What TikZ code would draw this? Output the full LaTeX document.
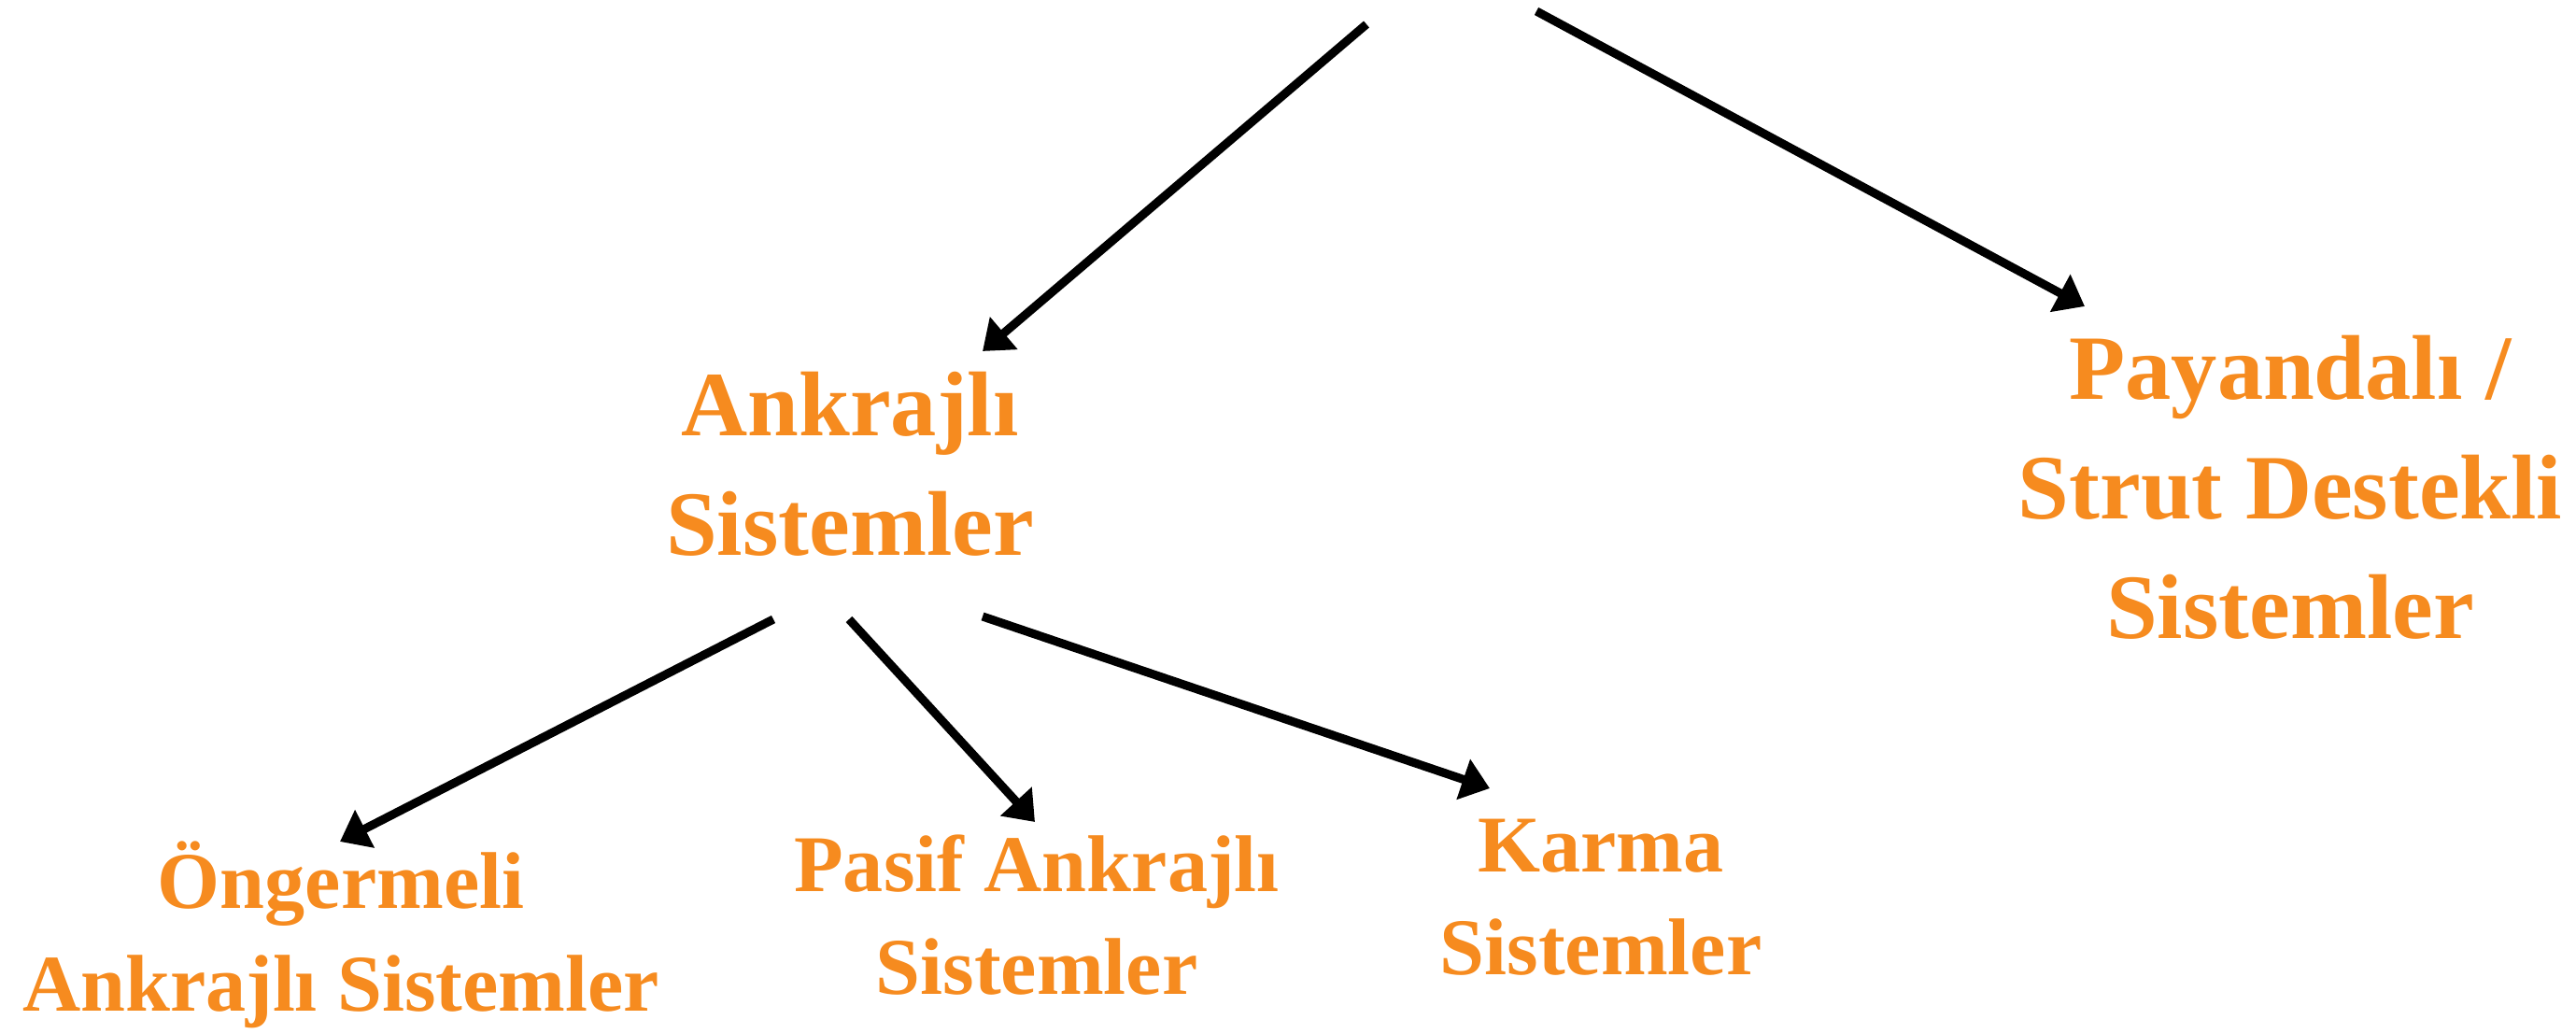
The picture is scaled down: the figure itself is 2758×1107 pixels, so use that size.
\documentclass[tikz,border=0pt]{standalone}
\usepackage{fontspec}
\setmainfont{Liberation Serif}
\usepackage{xcolor}
\usetikzlibrary{arrows.meta}
\definecolor{turuncu}{HTML}{F68B1F}
\tikzset{
  ust/.style={text=turuncu, font=\bfseries\fontsize{28}{36.4}\selectfont, align=center, anchor=base, inner sep=0pt},
  alt/.style={text=turuncu, font=\bfseries\fontsize{24.5}{31}\selectfont, align=center, anchor=base, inner sep=0pt},
  ok/.style={-{Triangle[length=8.5pt,width=12.5pt]}, line width=2.6pt, black},
}

\begin{document}
\begin{tikzpicture}[x=0.01cm,y=-0.01cm]
\useasboundingbox (0,0) rectangle (2758,1107);
\node[ust] (ank) at (910,595) {Ankrajlı\\Sistemler};
\node[ust] (pay) at (2452,684) {Payandalı /\\Strut Destekli\\Sistemler};
\node[alt] (ong) at (365,1082) {Öngermeli\\Ankrajlı Sistemler};
\node[alt] (pas) at (1110,1064) {Pasif Ankrajlı\\Sistemler};
\node[alt] (kar) at (1714,1043) {Karma\\Sistemler};
% ok uclari
\coordinate (kok-sol) at (1463,26);
\coordinate (kok-sag) at (1645,12);
\coordinate (ank-ust) at (1052,376);
\coordinate (pay-ust) at (2232,328);
\coordinate (ank-a1) at (828,663);
\coordinate (ank-a2) at (909,663);
\coordinate (ank-a3) at (1052,660);
\coordinate (ong-ust) at (364,901);
\coordinate (pas-ust) at (1108,880);
\coordinate (kar-ust) at (1595,844);
\draw[ok] (kok-sol) -- (ank-ust);
\draw[ok] (kok-sag) -- (pay-ust);
\draw[ok] (ank-a1) -- (ong-ust);
\draw[ok] (ank-a2) -- (pas-ust);
\draw[ok] (ank-a3) -- (kar-ust);
\end{tikzpicture}
\end{document}
